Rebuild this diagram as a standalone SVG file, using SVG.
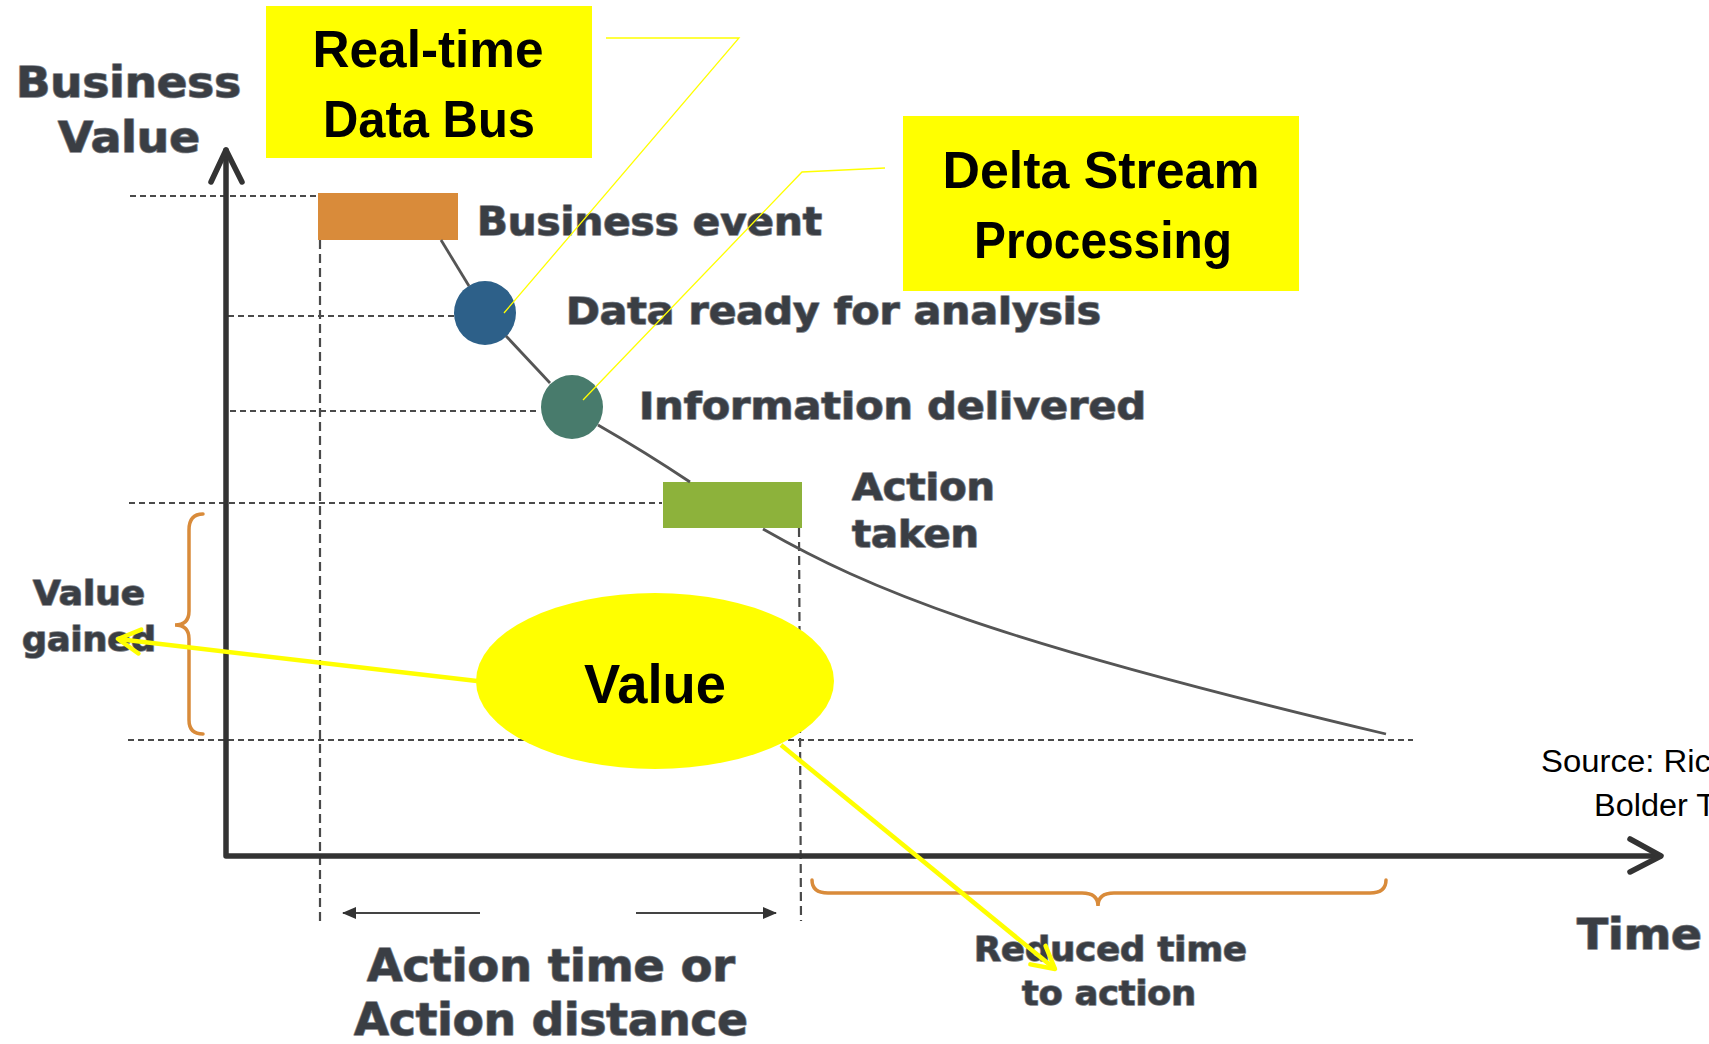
<svg xmlns="http://www.w3.org/2000/svg" width="1709" height="1044" viewBox="0 0 1709 1044">
<defs>
<style>
.lbl{font-family:"DejaVu Sans",Verdana,sans-serif;font-weight:bold;fill:#3a3e44;stroke:#7d8288;stroke-width:1.6;paint-order:stroke;stroke-linejoin:round;}
.call{font-family:"Liberation Sans",Arial,sans-serif;font-weight:bold;fill:#000;text-anchor:middle;}
.src{font-family:"Liberation Sans",Arial,sans-serif;fill:#000;font-size:31px;}
.dash{stroke:#4a4a4a;stroke-width:2.2;stroke-dasharray:6 4;fill:none;}
.vdash{stroke:#4a4a4a;stroke-width:2.2;stroke-dasharray:9 5;fill:none;}
.axis{stroke:#333;stroke-width:5.5;fill:none;stroke-linecap:round;stroke-linejoin:round;}
.curve{stroke:#555;stroke-width:2.8;fill:none;}
.lead{stroke:#ffff00;stroke-width:1.3;fill:none;}
.yarrow{stroke:#ffff00;stroke-width:4.5;fill:none;marker-end:url(#ychev);}
.brace{stroke:#d98b3a;stroke-width:3.5;fill:none;stroke-linecap:round;}
.small{stroke:#444;stroke-width:2;fill:none;marker-end:url(#tri);}
</style>
<marker id="ychev" markerUnits="userSpaceOnUse" viewBox="0 0 30 30" markerWidth="30" markerHeight="30" refX="26" refY="15" orient="auto">
<path d="M4,3 L26,15 L4,27" fill="none" stroke="#ffff00" stroke-width="4.5" stroke-linecap="round" stroke-linejoin="round"/>
</marker>
<marker id="tri" markerUnits="userSpaceOnUse" viewBox="0 0 14 12" markerWidth="14" markerHeight="12" refX="13" refY="6" orient="auto">
<path d="M0,0 L14,6 L0,12 Z" fill="#333"/>
</marker>
</defs>
<rect width="1709" height="1044" fill="#fff"/>

<g id="chart">
<line class="dash" x1="130" y1="196" x2="318" y2="196"/>
<line class="dash" x1="228" y1="316" x2="454" y2="316"/>
<line class="dash" x1="230" y1="411" x2="540" y2="411"/>
<line class="dash" x1="129" y1="503" x2="662" y2="503"/>
<line class="dash" x1="128" y1="740" x2="1413" y2="740"/>
<line class="vdash" x1="320" y1="240" x2="320" y2="921"/>
<line class="vdash" x1="799" y1="528" x2="801" y2="921"/>
<path class="axis" d="M226,150 L226,856 L1660,856"/>
<path class="axis" d="M211,182 L226,150 L242,182"/>
<path class="axis" d="M1630,839 L1661,856 L1630,872"/>
<path class="brace" d="M203,514 Q189,514 189,530 L189,611 Q189,625 175,625 Q189,625 189,639 L189,720 Q189,734 203,734"/>
<path class="brace" d="M812,880 Q812,893 828,893 L1082,893 Q1098,893 1098,906 Q1098,893 1114,893 L1370,893 Q1386,893 1386,880"/>
<text class="lbl" x="16" y="97" font-size="42" textLength="225" lengthAdjust="spacingAndGlyphs">Business</text>
<text class="lbl" x="58" y="152" font-size="42" textLength="142" lengthAdjust="spacingAndGlyphs">Value</text>
<text class="lbl" x="33" y="605" font-size="33" textLength="112" lengthAdjust="spacingAndGlyphs">Value</text>
<text class="lbl" x="22" y="651" font-size="33" textLength="134" lengthAdjust="spacingAndGlyphs">gained</text>
<text class="lbl" x="367" y="981" font-size="44" textLength="368" lengthAdjust="spacingAndGlyphs">Action time or</text>
<text class="lbl" x="354" y="1035" font-size="44" textLength="394" lengthAdjust="spacingAndGlyphs">Action distance</text>
<text class="lbl" x="974" y="961" font-size="33" textLength="273" lengthAdjust="spacingAndGlyphs">Reduced time</text>
<text class="lbl" x="1022" y="1005" font-size="33" textLength="174" lengthAdjust="spacingAndGlyphs">to action</text>
<text class="lbl" x="1577" y="949" font-size="42" textLength="125" lengthAdjust="spacingAndGlyphs">Time</text>
<text class="src" x="1541" y="772" textLength="170" lengthAdjust="spacingAndGlyphs">Source: Ric</text>
<text class="src" x="1594" y="816" textLength="122" lengthAdjust="spacingAndGlyphs">Bolder T</text>
</g>

<g id="node-business-event">
<rect x="318" y="193" width="140" height="47" fill="#d98b3a"/>
<text class="lbl" x="477" y="235" font-size="39" textLength="345" lengthAdjust="spacingAndGlyphs">Business event</text>
</g>
<g id="node-data-ready">
<ellipse cx="485" cy="313" rx="31" ry="32" fill="#2d6089"/>
<text class="lbl" x="566" y="324" font-size="38" textLength="535" lengthAdjust="spacingAndGlyphs">Data ready for analysis</text>
</g>
<g id="node-information-delivered">
<ellipse cx="572" cy="407" rx="31" ry="32" fill="#487b6c"/>
<text class="lbl" x="639" y="419" font-size="38" textLength="507" lengthAdjust="spacingAndGlyphs">Information delivered</text>
</g>
<g id="node-action-taken">
<rect x="663" y="482" width="139" height="46" fill="#8db23b"/>
<text class="lbl" x="852" y="500" font-size="38" textLength="143" lengthAdjust="spacingAndGlyphs">Action</text>
<text class="lbl" x="852" y="547" font-size="38" textLength="127" lengthAdjust="spacingAndGlyphs">taken</text>
</g>
<g id="node-realtime-bus">
<rect x="266" y="6" width="326" height="152" fill="#ffff00"/>
<text class="call" x="428" y="67" font-size="52" textLength="231" lengthAdjust="spacingAndGlyphs">Real-time</text>
<text class="call" x="429" y="137" font-size="52" textLength="212" lengthAdjust="spacingAndGlyphs">Data Bus</text>
</g>
<g id="node-delta-stream">
<rect x="903" y="116" width="396" height="175" fill="#ffff00"/>
<text class="call" x="1101" y="188" font-size="52" textLength="317" lengthAdjust="spacingAndGlyphs">Delta Stream</text>
<text class="call" x="1103" y="258" font-size="52" textLength="258" lengthAdjust="spacingAndGlyphs">Processing</text>
</g>
<g id="node-value">
<ellipse cx="655" cy="681" rx="179" ry="88" fill="#ffff00"/>
<text class="call" x="655" y="703" font-size="55" textLength="142" lengthAdjust="spacingAndGlyphs">Value</text>
</g>

<g id="connectors">
<line class="curve" x1="441" y1="240" x2="469" y2="286"/>
<line class="curve" x1="506" y1="336" x2="550" y2="383"/>
<path class="curve" d="M598,425 Q645,452 690,482"/>
<path class="curve" d="M763,529 C870,590 990,640 1386,734"/>
<polyline class="lead" points="606,38 739,38 504,313"/>
<polyline class="lead" points="885,168 802,172 583,400"/>
<line class="yarrow" x1="477" y1="681" x2="118" y2="639"/>
<line class="yarrow" x1="781" y1="745" x2="1055" y2="969"/>
<line class="small" x1="480" y1="913" x2="343" y2="913"/>
<line class="small" x1="636" y1="913" x2="776" y2="913"/>
</g>
</svg>
